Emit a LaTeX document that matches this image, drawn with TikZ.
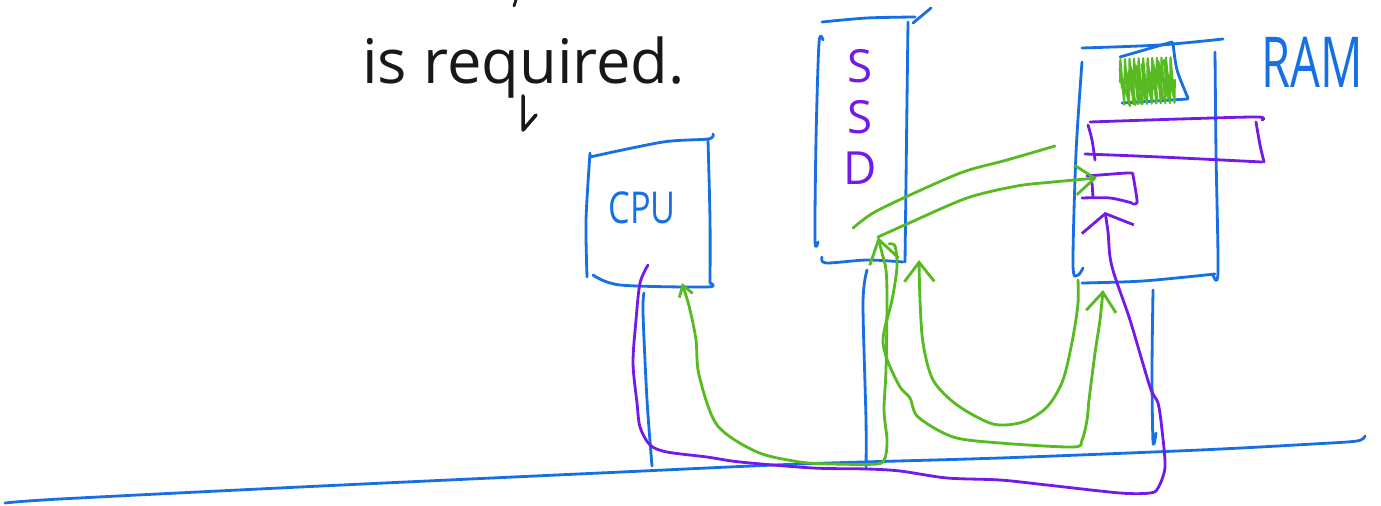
\documentclass[tikz,border=0pt]{standalone}
\usepackage{fontspec}
\setmainfont{Open Sans}
\usepackage{graphicx}
\usepackage{tikz}
\usetikzlibrary{arrows.meta,decorations.pathmorphing}
\definecolor{penblue}{RGB}{22,112,228}
\definecolor{penpurple}{RGB}{116,26,232}
\definecolor{pengreen}{RGB}{86,186,32}
\definecolor{penink}{RGB}{24,24,24}

\begin{document}
\begin{tikzpicture}[x=0.02cm,y=-0.02cm]
\tikzstyle{every node}+=[inner sep=0pt]
\tikzstyle{pen}=[line width=1.6pt,line cap=round,line join=round]
\tikzstyle{bluepen}=[pen,penblue]
\tikzstyle{purplepen}=[pen,penpurple]
\tikzstyle{greenpen}=[pen,pengreen]
\tikzstyle{barb}=[-{Straight Barb[length=11pt,width=17pt]}]
\useasboundingbox (0,0) rectangle (1381,506);
% note
\node [anchor=base west,text=penink,font=\fontsize{35}{38}\selectfont] (note) at (362,84) {is required.};
\draw [pen,penink] (516,0) -- (514,6);
\draw [pen,penink,line width=2pt] (523,96) -- (523,130) -- (536,115);
% bus
\draw [bluepen] plot [smooth] coordinates {(5,503) (60,499) (300,487) (600,473) (800,464) (1000,458) (1200,450) (1313,444) (1357,441) (1365,436)};
\draw [bluepen] plot [smooth] coordinates {(644,293) (643,313) (647,400) (652,466)};
\draw [bluepen] plot [smooth] coordinates {(867,270) (863,303) (866,420) (866,467)};
\draw [bluepen] plot [smooth] coordinates {(1153,290) (1152,370) (1153,442) (1156,433)};
% cpu
\draw [bluepen] plot [smooth] coordinates {(590,157) (663,142) (708,139) (713,134)};
\draw [bluepen] plot [smooth] coordinates {(590,153) (586,220) (587,277)};
\draw [bluepen] plot [smooth] coordinates {(593,275) (620,285) (707,287) (710,283)};
\draw [bluepen] plot [smooth] coordinates {(708,140) (710,220) (710,283)};
\node [text=penblue,font=\fontsize{25}{28}\selectfont] (cpu) at (642,208) {\scalebox{0.78}[1]{CPU}};
% ssd
\draw [bluepen] plot [smooth] coordinates {(822,22) (867,18) (915,17)};
\draw [bluepen] (913,23) -- (931,8);
\draw [bluepen] plot [smooth] coordinates {(823,40) (819,43) (816,140) (815,240) (818,242)};
\draw [bluepen] plot [smooth] coordinates {(908,22) (907,100) (905,262)};
\draw [bluepen] plot [smooth] coordinates {(822,257) (826,263) (867,260) (903,262)};
\node [text=penpurple,align=center,font=\fontsize{26}{29}\selectfont] (ssd) at (860,117) {S\\S\\D};
% ram
\draw [bluepen] plot [smooth] coordinates {(1082,48) (1160,45) (1223,39)};
\draw [bluepen] plot [smooth] coordinates {(1082,62) (1076,153) (1073,265) (1078,275) (1083,268)};
\draw [bluepen] plot [smooth] coordinates {(1215,52) (1216,153) (1218,272) (1213,275)};
\draw [bluepen] plot [smooth] coordinates {(1082,283) (1143,281) (1215,274)};
\node [text=penblue,font=\fontsize{40}{44}\selectfont] (ram) at (1312,62) {\scalebox{0.67}[1]{RAM}};
\draw [bluepen] (1120,57) -- (1172,42);
\draw [bluepen] plot [smooth] coordinates {(1173,43) (1177,70) (1188,98)};
\draw [bluepen] (1122,103) -- (1188,99);
\draw [greenpen,line width=1.2pt,decorate,decoration={zigzag,amplitude=13pt,segment length=2.6pt}] (1120,82) -- (1175,80);
\draw [greenpen,line width=1.2pt,decorate,decoration={zigzag,amplitude=11pt,segment length=3.2pt}] (1122,88) -- (1172,78);
\draw [purplepen] plot [smooth] coordinates {(1090,122) (1180,119) (1257,117) (1262,120)};
\draw [purplepen] plot [smooth] coordinates {(1088,125) (1092,140) (1095,160)};
\draw [purplepen] plot [smooth] coordinates {(1085,154) (1160,157) (1262,162)};
\draw [purplepen] plot [smooth] coordinates {(1256,122) (1260,145) (1264,162)};
\draw [purplepen] plot [smooth] coordinates {(1087,176) (1127,173) (1133,174)};
\draw [purplepen] plot [smooth] coordinates {(1133,175) (1136,193) (1137,203) (1133,204)};
\draw [purplepen] plot [smooth] coordinates {(1082,198) (1110,198) (1132,203)};
\draw [purplepen] (1092,183) -- (1093,197);
% transfers
\coordinate (cpuout) at (648,265);
\coordinate (ramin) at (1105,212);
\coordinate (cpuin) at (682,283);
\coordinate (ssdin) at (878,237);
\coordinate (ramcell) at (1097,178);
\coordinate (ssdout) at (889,244);
\coordinate (rambot) at (1103,290);
\coordinate (ramout) at (1078,280);
\coordinate (ssdback) at (919,260);
\draw [purplepen,-{Straight Barb[length=9pt,width=30pt]}] plot [smooth] coordinates {(cpuout) (640,283) (636,320) (633,363) (637,403) (640,427) (650,445) (667,452) (707,457) (740,462) (813,468) (867,469) (900,471) (947,478) (1000,480) (1047,485) (1120,493) (1150,493) (1158,488) (1165,467) (1162,430) (1158,403) (1150,387) (1130,320) (1115,277) (1110,257) (1108,232) (ramin)};
\draw [greenpen,{Straight Barb[length=6pt,width=8pt]}-{Straight Barb[length=13pt,width=17pt]}] plot [smooth] coordinates {(cpuin) (690,310) (696,340) (699,375) (717,425) (757,452) (800,462) (833,464) (877,464) (885,458) (887,440) (884,410) (886,370) (887,300) (886,270) (882,253) (ssdin)};
\draw [greenpen,barb] plot [smooth] coordinates {(ssdin) (907,224) (967,198) (1017,186) (1053,182) (ramcell)};
\draw [greenpen,barb] plot [smooth] coordinates {(ssdout) (895,246) (897,267) (892,300) (885,327) (883,343) (888,362) (900,387) (910,398) (918,417) (953,437) (1000,443) (1073,447) (1082,440) (1087,420) (1089,400) (1095,353) (1100,320) (rambot)};
\draw [greenpen,barb] plot [smooth] coordinates {(ramout) (1078,303) (1073,337) (1063,380) (1047,407) (1023,422) (993,424) (957,405) (933,380) (923,343) (920,300) (ssdback)};
\draw [greenpen] plot [smooth] coordinates {(853,228) (873,213) (910,195) (963,172) (1007,160) (1055,146)};
\end{tikzpicture}
\end{document}
